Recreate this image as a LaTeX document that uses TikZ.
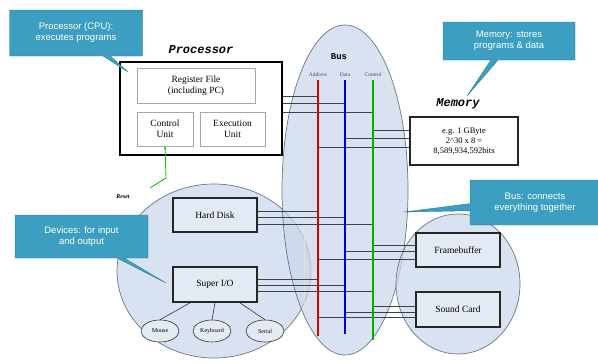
\documentclass[tikz,border=0pt]{standalone}
\usepackage{fontspec}
\setmainfont{Liberation Serif}
\newfontfamily\calloutfont{Liberation Sans}
\newfontfamily\labelfont{Liberation Mono}
\usetikzlibrary{shapes.callouts,shapes.geometric,arrows.meta}
\definecolor{teal1}{HTML}{3C9EC0}
\definecolor{ellfill}{HTML}{C9D6EA}
\definecolor{ellline}{HTML}{6A7686}
\definecolor{boxfill}{HTML}{E4EAF3}
\definecolor{busline}{HTML}{3A4250}
\begin{document}
\begin{tikzpicture}[x=1pt,y=-1pt,
  callout/.style={rectangle callout,fill=teal1,draw=teal1!80!black,line width=0.4pt,
    text=white,font=\calloutfont\fontsize{9.5}{11}\selectfont,align=center,inner sep=2pt},
  regbox/.style={draw=gray!70,line width=0.5pt,fill=white,align=center,
    font=\fontsize{9.5}{10.5}\selectfont,inner sep=1pt},
  devbox/.style={draw=black!85,line width=1.3pt,fill=boxfill,align=center,
    font=\fontsize{9.5}{10.5}\selectfont,inner sep=1pt},
  area/.style={ellipse,draw=ellline,line width=0.7pt,fill=ellfill,fill opacity=0.7},
  title/.style={font=\labelfont\bfseries\itshape\fontsize{12}{13}\selectfont},
  periph/.style={ellipse,draw=black!80,line width=0.6pt,fill=boxfill,
    font=\fontsize{6}{7}\selectfont,inner sep=0pt,minimum width=38,minimum height=22},
  hline/.style={draw=busline,line width=0.5pt},
  stripe/.style={draw=pink!60,line width=1pt,opacity=0.6}
]
\useasboundingbox (0,0) rectangle (598,364);

% areas
\node[area,minimum width=194,minimum height=174] (devarea) at (214,271) {};
\node[area,minimum width=126,minimum height=330] (busarea) at (345,190) {};
\node[area,minimum width=124,minimum height=140] (iarea) at (458,284) {};

% faint stripes in bus
\foreach \sx/\sn/\sb in {304/a/305,332/b/335,360/c/335,388/d/305}{
  \coordinate (st\sn T) at (\sx,82);
  \coordinate (st\sn B) at (\sx,\sb);
  \draw[stripe] (st\sn T) -- (st\sn B);
}

% labels
\node[title] (proclabel) at (201,50) {Processor};
\node[title] (memlabel) at (458,104) {Memory};
\node[font=\labelfont\bfseries\fontsize{9}{10}\selectfont] (buslabel) at (339,57) {Bus};
\node[font=\fontsize{5.5}{6}\selectfont,text=black!70,inner sep=0pt] (addrlab) at (318,75) {Address};
\node[font=\fontsize{5.5}{6}\selectfont,text=black!70,inner sep=0pt] (datalab) at (345,75) {Data};
\node[font=\fontsize{5.5}{6}\selectfont,text=black!70,inner sep=0pt] (ctrllab) at (373,75) {Control};

% processor
\node[draw=black,line width=1.6pt,fill=white,minimum width=162,minimum height=93] (proc) at (201,108.5) {};
\node[regbox,minimum width=118,minimum height=35] (regfile) at (196,85.5) {Register File\\(including PC)};
\node[regbox,minimum width=56,minimum height=34] (cu) at (165,129) {Control\\Unit};
\node[regbox,minimum width=65,minimum height=34] (eu) at (232.5,129) {Execution\\Unit};

% memory
\node[draw=black!85,line width=1.3pt,fill=white,minimum width=108,minimum height=48,align=center,
  font=\fontsize{8.5}{10}\selectfont,inner sep=1pt] (mem) at (464,141) {e.g. 1 GByte\\2\textasciicircum 30 x 8 =\\8,589,934,592bits};

% devices
\node[devbox,minimum width=84,minimum height=34] (hd) at (215,215) {Hard Disk};
\node[devbox,minimum width=84,minimum height=35] (sio) at (215,284.5) {Super I/O};
\node[periph] (mouse) at (160,331) {Mouse};
\node[periph] (kbd) at (212,331) {Keyboard};
\node[periph] (serial) at (265,331) {Serial};
\draw[line width=0.6pt,black!80] (sio.south west) ++(18,0) coordinate (s1) (s1) -- (mouse.north);
\draw[line width=0.6pt,black!80] (sio.south) -- (kbd.north);
\draw[line width=0.6pt,black!80] (sio.south east) ++(-18,0) coordinate (s3) (s3) -- (serial.north);

\node[devbox,minimum width=84,minimum height=34] (fb) at (458,250) {Framebuffer};
\node[devbox,minimum width=84,minimum height=35] (snd) at (458,309.5) {Sound Card};

% bus wires
\coordinate (addrT) at (318,80);  \coordinate (addrB) at (318,336);
\coordinate (dataT) at (345,80);  \coordinate (dataB) at (345,334);
\coordinate (ctrlT) at (373,80);  \coordinate (ctrlB) at (373,340);

% horizontal connections
\foreach \yy/\tgt in {96/addrT,103/dataT,112/ctrlT}{
  \draw[hline] (proc.east |- 0,\yy) -- (\tgt |- 0,\yy);}
\foreach \yy/\tgt in {130/ctrlT,138/dataT,147/addrT}{
  \draw[hline] (mem.west |- 0,\yy) -- (\tgt |- 0,\yy);}
\foreach \yy/\tgt in {211/addrT,217/dataT,224/ctrlT}{
  \draw[hline] (hd.east |- 0,\yy) -- (\tgt |- 0,\yy);}
\foreach \yy/\tgt in {279/addrT,285/dataT,291/ctrlT}{
  \draw[hline] (sio.east |- 0,\yy) -- (\tgt |- 0,\yy);}
\foreach \yy/\tgt in {245/ctrlT,251/dataT,259/addrT}{
  \draw[hline] (fb.west |- 0,\yy) -- (\tgt |- 0,\yy);}
\foreach \yy/\tgt in {306/ctrlT,312/dataT,317/addrT}{
  \draw[hline] (snd.west |- 0,\yy) -- (\tgt |- 0,\yy);}

\draw[red!85!black,line width=2.2pt] (addrT) -- (addrB);
\draw[blue!80!black,line width=2.2pt] (dataT) -- (dataB);
\draw[green!70!black,line width=1.4pt] (ctrlT) -- (ctrlB);

% reset
\node[font=\bfseries\itshape\fontsize{6}{7}\selectfont,inner sep=0pt] (reset) at (123,197) {Reset};
\coordinate (rbend) at (166,178);
\coordinate (rend) at (150,188);
\draw[green!75!black,line width=0.8pt,-{Stealth[length=3pt]}] (rend) -- (rbend) -- (cu.south);

% callouts
\node[callout,minimum width=133,minimum height=46,callout absolute pointer={(128,72)}] (c1) at (76,33) {Processor (CPU):\\executes programs};
\node[callout,minimum width=132,minimum height=38,callout absolute pointer={(467,96)}] (c2) at (509,41) {Memory: stores\\programs \& data};
\node[callout,minimum width=130,minimum height=45,callout absolute pointer={(404,212)}] (c3) at (535,202.5) {Bus: connects\\everything together};
\node[callout,minimum width=133,minimum height=43,callout absolute pointer={(166,283)}] (c4) at (81.5,236.5) {Devices: for input\\and output};
\end{tikzpicture}
\end{document}
